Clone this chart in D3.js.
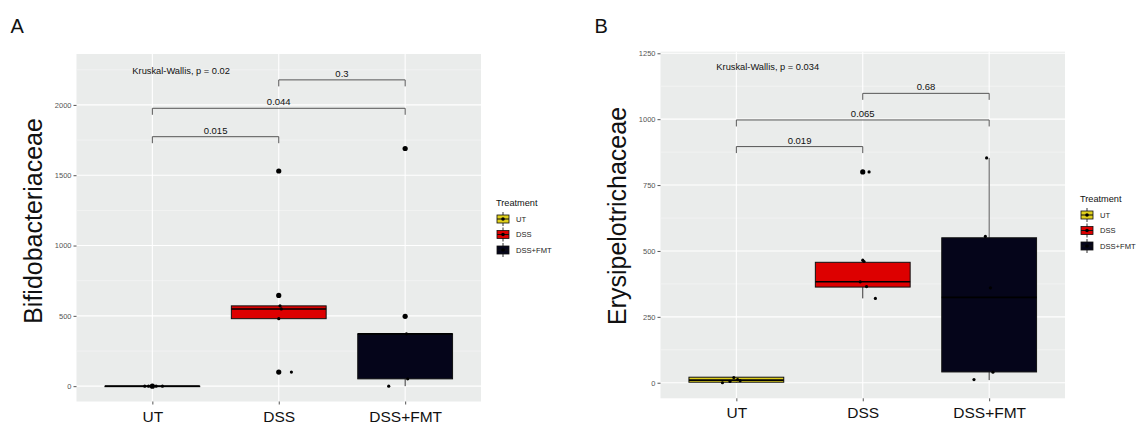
<!DOCTYPE html>
<html>
<head>
<meta charset="utf-8">
<script src="https://cdn.jsdelivr.net/npm/d3@7"></script>
<style>
  body { margin: 0; background: #fff; }
  svg { display: block; font-family: "Liberation Sans", Arial, sans-serif; }
</style>
</head>
<body>
<svg id="chart" width="1136" height="425"></svg>
<script>
// groupes de traitement, communs aux deux panneaux
var categories = ["UT", "DSS", "DSS+FMT"];
var fills = ["#e0d01c", "#dd0000", "#05051a"];

// panneau A : Bifidobacteriaceae
// stats des boites : [moustache basse, q1, mediane, q3, moustache haute]
var bifidoStats = [[0, 0, 0, 0, 0], [480, 480, 549, 571, 571], [0, 52, 372, 372, 372]];
var bifidoOutliers = [[0], [100, 645, 1530], [497, 1690]];
var bifidoPoints = [[0, 0, 0, 0], [100, 480, 571, 549], [372, 0, 52]];
var bifidoJitter = [[-0.06, -0.03, 0.03, 0.08], [0.1, 0, 0.01, 0.02], [0.01, -0.13, 0.02]];
var bifidoTicks = [0, 500, 1000, 1500, 2000];
var bifidoMinor = [250, 750, 1250, 1750, 2250];
var bifidoBrackets = [["UT", "DSS", 1774, "0.015"], ["UT", "DSS+FMT", 1976, "0.044"], ["DSS", "DSS+FMT", 2178, "0.3"]];

// panneau B : Erysipelotrichaceae
var erysStats = [[0, 2, 10, 21, 21], [320, 363, 383, 457, 465], [10, 41, 324, 550, 853]];
var erysOutliers = [[], [800], []];
var erysPoints = [[20, 12, 8, 5, 0], [465, 460, 383, 365, 320, 800], [853, 555, 360, 40, 12]];
var erysJitter = [[-0.02, 0.01, 0.03, -0.05, -0.11], [0, 0.01, -0.02, 0.03, 0.1, 0.05], [-0.02, -0.03, 0.01, 0.03, -0.12]];
var erysTicks = [0, 250, 500, 750, 1000, 1250];
var erysMinor = [125, 375, 625, 875, 1125];
var erysBrackets = [["UT", "DSS", 896, "0.019"], ["UT", "DSS+FMT", 997, "0.065"], ["DSS", "DSS+FMT", 1098, "0.68"]];

var panels = [
  {letter: "A", title: "Bifidobacteriaceae", kw: "Kruskal-Wallis, p = 0.02", kwY: 2220,
   stats: bifidoStats, outliers: bifidoOutliers, points: bifidoPoints, jitter: bifidoJitter,
   ticks: bifidoTicks, minor: bifidoMinor, brackets: bifidoBrackets, domain: [-109, 2362],
   box: {x0: 76.5, x1: 481, y0: 54, y1: 401.5}, titleY: 221, legend: {x: 496, y: 203}},
  {letter: "B", title: "Erysipelotrichaceae", kw: "Kruskal-Wallis, p = 0.034", kwY: 1185,
   stats: erysStats, outliers: erysOutliers, points: erysPoints, jitter: erysJitter,
   ticks: erysTicks, minor: erysMinor, brackets: erysBrackets, domain: [-59, 1256],
   box: {x0: 660.5, x1: 1065, y0: 51.7, y1: 398.3}, titleY: 216, legend: {x: 1080, y: 199}}
];

var svg = d3.select("#chart");

panels.forEach(function(p) {
  var b = p.box;
  var x = d3.scalePoint().domain(categories).range([b.x0, b.x1]).padding(0.6);
  var y = d3.scaleLinear().domain(p.domain).range([b.y1, b.y0]);
  var bw = x.step() * 0.75;
  var g = svg.append("g");

  // fond et grille facon ggplot
  g.append("rect").attr("x", b.x0).attr("y", b.y0).attr("width", b.x1 - b.x0).attr("height", b.y1 - b.y0).attr("fill", "#eaeceb");
  g.selectAll(".minor").data(p.minor).enter().append("line")
    .attr("x1", b.x0).attr("x2", b.x1).attr("y1", d => y(d)).attr("y2", d => y(d))
    .attr("stroke", "#f7f7f7").attr("stroke-width", 0.6);
  g.selectAll(".major").data(p.ticks).enter().append("line")
    .attr("x1", b.x0).attr("x2", b.x1).attr("y1", d => y(d)).attr("y2", d => y(d))
    .attr("stroke", "#fff").attr("stroke-width", 1.1);
  g.selectAll(".vmajor").data(categories).enter().append("line")
    .attr("x1", d => x(d)).attr("x2", d => x(d)).attr("y1", b.y0).attr("y2", b.y1)
    .attr("stroke", "#fff").attr("stroke-width", 1.1);

  // axes
  var yAxis = d3.axisLeft(y).tickValues(p.ticks).tickFormat(d3.format("d")).tickSize(3).tickPadding(2);
  var ya = g.append("g").attr("transform", "translate(" + b.x0 + ",0)").call(yAxis);
  ya.select(".domain").remove();
  ya.selectAll("line").attr("stroke", "#555");
  ya.selectAll("text").attr("fill", "#555").style("font-size", "7.5px");

  var xAxis = d3.axisBottom(x).tickSize(3).tickPadding(6);
  var xa = g.append("g").attr("transform", "translate(0," + b.y1 + ")").call(xAxis);
  xa.select(".domain").remove();
  xa.selectAll("line").attr("stroke", "#555");
  xa.selectAll("text").attr("fill", "#111").style("font-size", "15.5px");

  // boites
  categories.forEach(function(c, i) {
    var s = p.stats[i], cx = x(c);
    g.append("line").attr("x1", cx).attr("x2", cx).attr("y1", y(s[0])).attr("y2", y(s[1])).attr("stroke", "#333");
    g.append("line").attr("x1", cx).attr("x2", cx).attr("y1", y(s[3])).attr("y2", y(s[4])).attr("stroke", "#555");
    g.append("rect").attr("x", cx - bw / 2).attr("width", bw)
      .attr("y", y(s[3])).attr("height", Math.max(y(s[1]) - y(s[3]), 0.5))
      .attr("fill", fills[i]).attr("stroke", "#111").attr("stroke-width", 1);
    g.append("line").attr("x1", cx - bw / 2).attr("x2", cx + bw / 2).attr("y1", y(s[2])).attr("y2", y(s[2]))
      .attr("stroke", "#000").attr("stroke-width", 1.6);

    g.selectAll(".out" + i).data(p.outliers[i]).enter().append("circle")
      .attr("cx", cx).attr("cy", d => y(d)).attr("r", 2.6).attr("fill", "#000");
    g.selectAll(".pt" + i).data(p.points[i]).enter().append("circle")
      .attr("cx", (d, j) => cx + p.jitter[i][j] * x.step()).attr("cy", d => y(d)).attr("r", 1.6).attr("fill", "#000");
  });

  // crochets de comparaison
  p.brackets.forEach(function(br) {
    var xa1 = x(br[0]), xa2 = x(br[1]), yy = y(br[2]);
    g.append("path").attr("d", "M" + xa1 + "," + (yy + 6.5) + "V" + yy + "H" + xa2 + "V" + (yy + 6.5))
      .attr("fill", "none").attr("stroke", "#555").attr("stroke-width", 1);
    g.append("text").attr("x", (xa1 + xa2) / 2).attr("y", yy - 3).attr("text-anchor", "middle")
      .style("font-size", "9.5px").attr("fill", "#111").text(br[3]);
  });

  g.append("text").attr("x", x("UT") - 20).attr("y", y(p.kwY))
    .style("font-size", "9.3px").attr("fill", "#111").text(p.kw);

  // titres
  g.append("text").attr("transform", "translate(" + (b.x0 - 35) + "," + p.titleY + ") rotate(-90)")
    .attr("text-anchor", "middle").style("font-size", "25px").attr("fill", "#111").text(p.title);
  g.append("text").attr("x", b.x0 - 66).attr("y", 33).style("font-size", "20px").attr("fill", "#111").text(p.letter);

  // legende
  var lg = g.append("g").attr("transform", "translate(" + p.legend.x + "," + p.legend.y + ")");
  lg.append("text").attr("x", 0).attr("y", 3).style("font-size", "9.2px").attr("fill", "#111").text("Treatment");
  categories.forEach(function(c, i) {
    var ky = 16 + i * 15.5;
    lg.append("line").attr("x1", 7).attr("x2", 7).attr("y1", ky - 7).attr("y2", ky + 7).attr("stroke", "#333");
    lg.append("rect").attr("x", 1).attr("y", ky - 4).attr("width", 12).attr("height", 8)
      .attr("fill", fills[i]).attr("stroke", "#111").attr("stroke-width", 0.8);
    lg.append("line").attr("x1", 1).attr("x2", 13).attr("y1", ky).attr("y2", ky).attr("stroke", "#111");
    lg.append("circle").attr("cx", 7).attr("cy", ky).attr("r", 1.8).attr("fill", "#000");
    lg.append("text").attr("x", 20).attr("y", ky + 2.6).style("font-size", "7.6px").attr("fill", "#222").text(c);
  });
});
</script>
</body>
</html>
